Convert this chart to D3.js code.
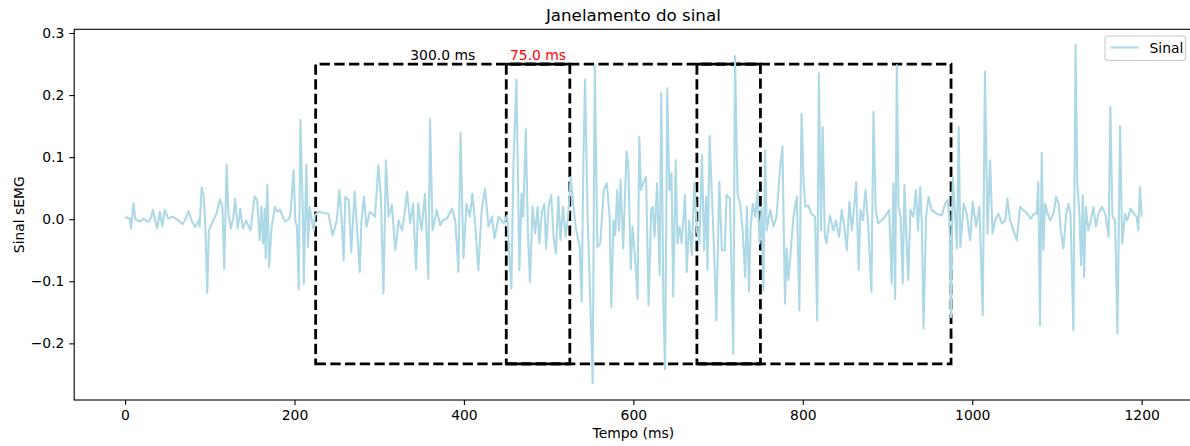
<!DOCTYPE html>
<html><head><meta charset="utf-8">
<script src="https://cdn.jsdelivr.net/npm/d3@7"></script>
<style>body{margin:0;background:#fff} svg{display:block;font-family:"DejaVu Sans",sans-serif}</style>
</head><body><svg id="c" width="1190" height="446"></svg>
<script>
const timeMs = [0,3,6,7,10,12,15,18,22,25,28,31,33,35,38,41,44,47,51,54,57,60,63,68,72,75,79,83,87,88,90.5,93,95,97,99,104,108,112,115,117,120,122,125,128,130,133,136,139,143,148,153,156,159,161,163,165,166,168,170,173,177,180,183,186,189,194,195.5,199,201,203,205,207,210,211,214,216,218,221,223,
224,228,234,240,245,250,253,256,258,260,264,267,271,273.5,277,279,282,285,289,295,299,302,305,308,311,315,319,323,327,329.5,333,336.5,340,343.5,346,350,354,358,360,363,368,372,375,380,386,390,393.5,396,399.5,403,407,410,413,417,421,425,429,433,436,441,447,451,454,456,458.5,462,465.5,468,470,473,475.5,478,481,484,487,489,492,495,497,500,503,506,508.5,511.5,514,517,520,523,526,529,532.5,536.5,539,541,543,546,549,552,554.5,557.5,561,565,568.5,
569,572,574,576.5,578.5,581,583,585,588,592,594,597,599,602,605,607,609,612,615,618,621,623,625,628,631,633,635.5,637.5,640,642.5,645,647,650,652,654.5,657,661,663,666,669,672,675,678,681,683.5,686,687.5,690,692.5,695,698,701.5,704.5,708,710,714,718,720,723,726,729,732,734,736.5,738.5,741,744,746.5,749,751.5,753.5,755.5,757.5,761.5,765.5,769,773,776,779,781,783,786,789,793,796,798.5,801,803,806.5,810,814.5,817,819,821.5,823.5,826,828,832,836,839,843,846,849,852,855,858,861,863,866,868,871,874,877,881,883.5,886,889,893,898,902,905,907,909,911,913,915.5,918,920,922,924.5,927,930.5,933.5,936,938.5,940.5,942.5,945.5,948.5,952,958,964,968,971,973,975,977,980,982,984,986,
990,993.5,997.5,1000.6,1004.5,1008.5,1012.4,1015,1018,1021,1024,1027,1031,1035,1039,1041.5,1044.7,1048.6,1052.5,1056.5,1060,1065,1069,1073,1076,1078,1080,1082,1084,1086,1089,1092,1096,1099,1102,1104.5,1107.6,1111,1113.5,1116,1119.4,1122,1124,1126.5,1128.5,1130.5,1132,1134,1137,1140,1143,1146,1149,1153,1157,1161,1163,1165.5,1168.6,1171.4,1174.5,1177,1180.4,1183,1187,1191,1194,1196,1198,1200];
const signal = [0.002,0.003,0,-0.015,0.026,0,-0.002,-0.004,0.001,-0.003,-0.004,0.004,0.015,0.001,-0.015,0.012,-0.012,0.015,0.001,0.003,0.004,0.001,-0.002,-0.008,0.002,0.013,-0.004,-0.012,-0.002,-0.012,0.051,0.036,-0.018,-0.119,-0.018,-0.002,0.009,0.032,0.02,-0.080,0.088,0.009,-0.015,0.004,0.033,-0.015,0.017,-0.015,-0.002,-0.018,0.037,0.031,-0.034,0.02,-0.039,0.017,-0.063,0.056,-0.077,-0.012,0.02,0.012,0.015,0.005,-0.004,0.001,0.012,0.079,-0.002,-0.012,-0.113,0.160,0.004,-0.104,0.088,-0.045,0.02,-0.007,-0.018,
0.006,0.012,0.010,0.009,-0.026,-0.002,0.047,-0.007,-0.066,0.036,0.031,-0.053,0.045,-0.007,-0.085,-0.004,0.036,-0.012,0.012,0.004,0.087,0.036,-0.120,0.095,0.004,0.023,-0.050,-0.002,-0.018,0.004,0.044,-0.007,0.025,-0.081,0.025,-0.018,0.041,-0.096,0.161,-0.018,0.015,-0.010,-0.002,0.001,0.017,-0.004,-0.085,0.139,-0.063,0.025,0.004,0.041,-0.002,-0.082,0.015,0.049,-0.012,0.004,-0.031,0.004,-0.007,0.006,-0.066,-0.112,0.090,0.225,-0.082,0.041,0.004,0.145,-0.018,-0.101,0.020,-0.023,0.020,-0.039,0.012,0.025,-0.047,0.020,0.039,-0.031,-0.055,0.036,-0.034,0.020,-0.028,0.004,0.068,0.025,-0.018,-0.042,-0.133,0.090,0.225,0.004,-0.125,-0.264,0.247,-0.045,-0.039,0.047,0.058,
0.052,0.004,-0.141,-0.002,-0.026,0.047,-0.018,0.063,-0.047,0.109,0.090,-0.080,-0.012,-0.061,-0.128,0.133,0.047,0.060,0.068,-0.139,0.015,0.020,-0.028,0.058,-0.090,0.203,-0.141,-0.242,0.211,0.047,0.074,-0.125,0.095,-0.039,-0.012,-0.039,0.039,-0.085,-0.002,-0.058,0.058,-0.018,-0.039,0.103,-0.050,0.036,-0.082,0.134,0.047,-0.039,-0.163,0.060,-0.050,-0.050,0.039,0.033,-0.217,0.263,0.041,0.025,-0.018,-0.093,0.020,-0.117,-0.012,0.025,0.004,0.047,-0.039,0.020,-0.115,0.111,-0.018,0.015,-0.012,0.004,0.079,0.117,-0.136,-0.047,-0.098,-0.047,0.004,0.036,-0.147,0.170,0.060,0.020,0.022,0.009,0.004,-0.163,0.235,-0.018,0.149,-0.028,-0.039,0.006,-0.018,-0.002,-0.028,0.015,-0.012,-0.050,0.028,-0.018,0.025,0.060,-0.082,0.015,-0.002,0.047,-0.002,-0.117,0.173,0.015,-0.007,-0.002,0.006,0.015,-0.104,0.058,-0.128,0.248,0.020,0.004,-0.104,0.055,-0.018,-0.098,0.015,0.004,0.047,-0.018,0.052,-0.007,-0.176,0.004,0.036,0.015,0.009,0.006,0.025,0.031,0.004,-0.158,0.068,0.004,-0.047,0.149,-0.045,
0.025,0.009,-0.034,0.028,-0.012,0.02,-0.155,0.238,-0.023,0.095,-0.023,-0.002,0.009,-0.007,-0.002,0.033,-0.002,-0.018,-0.034,0.020,0.015,0.009,0.001,0.009,0.009,0.059,-0.171,0.107,-0.050,0.025,0.009,-0.002,0.009,0.036,0.025,-0.018,-0.047,0.009,0.025,0.009,-0.179,0.282,0.058,0.009,-0.074,0.039,-0.093,0.020,-0.018,-0.002,0.020,-0.012,0.009,0.020,0.009,-0.028,0.181,0.004,-0.002,-0.184,0.150,-0.039,0.009,-0.002,0.017,0.009,0.004,-0.018,0.052,0.004];

const xTicks = [0,200,400,600,800,1000,1200];
const yTicks = [-0.2,-0.1,0.0,0.1,0.2,0.3];
const windowStarts = [225,450,675];
const windowLength = 300;
const overlapStarts = [450,675];
const overlapLength = 75;
const windowTop = 0.25, windowBottom = -0.233;
const windowLabel = "300.0 ms", overlapLabel = "75.0 ms";

const svg = d3.select("#c");
const L = 74.2, R = 1192.5, T = 29.3, B = 400;
const x = d3.scaleLinear().domain([-60, 1260]).range([L, R]);
const y = d3.scaleLinear().domain([-0.2913, 0.306]).range([B, T]);
const fs = 13.9;

// title
svg.append("text").attr("x", (L+R)/2).attr("y", 21).attr("text-anchor","middle")
  .attr("font-size", 16.7).attr("fill","#000").text("Janelamento do sinal");

// axes
const xAxis = d3.axisBottom(x).tickValues(xTicks).tickFormat(d3.format("d")).tickSize(4.9).tickPadding(4.9).tickSizeOuter(0);
const gx = svg.append("g").attr("transform",`translate(0,${B})`).call(xAxis);
const yAxis = d3.axisLeft(y).tickValues(yTicks).tickFormat(d3.format(".1f")).tickSize(4.9).tickPadding(4.9).tickSizeOuter(0);
const gy = svg.append("g").attr("transform",`translate(${L},0)`).call(yAxis);
[gx, gy].forEach(g => {
  g.select(".domain").remove();
  g.selectAll(".tick line").attr("stroke","#000").attr("stroke-width",1.1);
  g.selectAll(".tick text").attr("font-size", fs).attr("fill","#000").attr("font-family","DejaVu Sans");
});
gx.selectAll(".tick text").attr("dy","0.71em");

// frame
svg.append("rect").attr("x",L).attr("y",T).attr("width",R-L).attr("height",B-T)
  .attr("fill","none").attr("stroke","#000").attr("stroke-width",1.1);

// axis labels
svg.append("text").attr("x",(L+R)/2).attr("y",438).attr("text-anchor","middle")
  .attr("font-size",fs).attr("fill","#000").text("Tempo (ms)");
svg.append("text").attr("transform",`translate(23.5,${(T+B)/2}) rotate(-90)`).attr("text-anchor","middle")
  .attr("font-size",fs).attr("fill","#000").text("Sinal sEMG");

// windows (dashed rectangles, path starting bottom-left like matplotlib)
svg.append("g").selectAll("path").data(windowStarts).join("path")
  .attr("d", s => `M${x(s)},${y(windowBottom)}H${x(s+windowLength)}V${y(windowTop)}H${x(s)}Z`)
  .attr("fill","none").attr("stroke","#000").attr("stroke-width",2.78)
  .attr("stroke-dasharray","10.3 4.4");

// overlap marks (solid top & bottom)
const og = svg.append("g");
overlapStarts.forEach(s => {
  [windowTop, windowBottom].forEach(v => {
    og.append("line").attr("x1",x(s)).attr("x2",x(s+overlapLength)).attr("y1",y(v)).attr("y2",y(v))
      .attr("stroke","#000").attr("stroke-width",2.78);
  });
});

// signal
const pts = timeMs.map((t,i)=>[t, signal[i]]);
svg.append("path").datum(pts)
  .attr("d", d3.line().x(d=>x(d[0])).y(d=>y(d[1])))
  .attr("fill","none").attr("stroke","#add8e6").attr("stroke-width",2.08).attr("stroke-linejoin","round");

// labels
svg.append("text").attr("x",x(windowStarts[0]+windowLength/2)).attr("y",y(windowTop)-4.5)
  .attr("text-anchor","middle").attr("font-size",fs).attr("fill","#000").text(windowLabel);
svg.append("text").attr("x",x(overlapStarts[0]+overlapLength/2)).attr("y",y(windowTop)-4.5)
  .attr("text-anchor","middle").attr("font-size",fs).attr("fill","#ff0000").text(overlapLabel);

// legend
const lg = svg.append("g");
lg.append("rect").attr("x",1105).attr("y",36).attr("width",80.5).attr("height",24.5).attr("rx",2.8)
  .attr("fill","#fff").attr("fill-opacity",0.8).attr("stroke","#cccccc").attr("stroke-width",1.1);
lg.append("line").attr("x1",1110.6).attr("x2",1138.4).attr("y1",47.5).attr("y2",47.5)
  .attr("stroke","#add8e6").attr("stroke-width",2.08);
lg.append("text").attr("x",1149.5).attr("y",52.5).attr("font-size",fs).attr("fill","#000").text("Sinal");
</script></body></html>
